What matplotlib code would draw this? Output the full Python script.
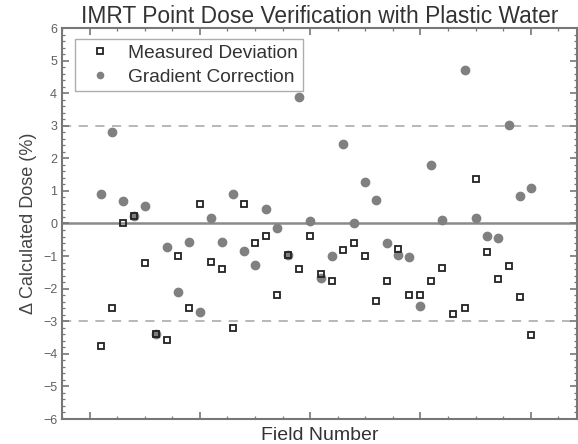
import numpy as np
import matplotlib
matplotlib.use("Agg")
import matplotlib.pyplot as plt
from matplotlib.ticker import MultipleLocator, NullFormatter

plt.rcParams['font.family'] = ['Liberation Sans', 'DejaVu Sans']

fields = list(range(1, 41))
measured = [-3.77, -2.60, 0.02, 0.22, -1.20, -3.39, -3.59, -0.99, -2.60, 0.61,
            -1.19, -1.40, -3.21, 0.61, -0.59, -0.39, -2.19, -0.97, -1.40, -0.39,
            -1.55, -1.78, -0.80, -0.59, -0.99, -2.39, -1.78, -0.78, -2.19, -2.19,
            -1.78, -1.38, -2.78, -2.58, 1.36, -0.86, -1.69, -1.29, -2.27, -3.43]
gradient = [0.92, 2.80, 0.69, 0.22, 0.53, -3.39, -0.73, -2.11, -0.58, -2.71,
            0.17, -0.58, 0.92, -0.84, -1.27, 0.44, -0.13, -0.97, 3.89, 0.08,
            -1.68, -0.99, 2.45, 0.02, 1.28, 0.73, -0.59, -0.97, -1.04, -2.52,
            1.81, 0.10, np.nan, 4.70, 0.17, -0.38, -0.43, 3.03, 0.84, 1.09]

fig = plt.figure(figsize=(5.78, 4.44), dpi=100)
ax = fig.add_axes([62/578, 25/444, 515/578, 391/444])

ax.axhline(0, color='#8a8a8a', lw=1.8, zorder=1)
for yv in (3, -3):
    ax.axhline(yv, color='#ababab', lw=1.2, dashes=(5.5, 4.5), zorder=1)

ax.plot(fields, gradient, 'o', ls='none', color='#808080', ms=6,
        mec='#808080', label='Gradient Correction', zorder=2)
ax.plot(fields, measured, 's', ls='none', mfc='none', mec='#222222', ms=5,
        mew=1.3, label='Measured Deviation', zorder=3)

ax.set_xlim(-2.5, 44.2)
ax.set_ylim(-6, 6)
ax.xaxis.set_major_locator(MultipleLocator(10))
ax.xaxis.set_minor_locator(MultipleLocator(2.5))
ax.xaxis.set_major_formatter(NullFormatter())
ax.yaxis.set_major_locator(MultipleLocator(1))
ax.yaxis.set_minor_locator(MultipleLocator(0.2))
ax.tick_params(which='both', direction='in', top=True, right=True,
               color='#777777', labelcolor='#606060', labelsize=9)
ax.tick_params(which='major', length=5, width=1.2)
ax.tick_params(which='minor', length=2.5, width=0.9)
for s in ax.spines.values():
    s.set_color('#777777')
    s.set_linewidth(1.5)

ax.set_title('IMRT Point Dose Verification with Plastic Water', fontsize=16.4,
             color='#333333', pad=-1.5)
ax.set_xlabel('Field Number', fontsize=14, color='#333333', labelpad=2)
ax.set_ylabel('\u0394 Calculated Dose (%)', fontsize=13, color='#444444', labelpad=4)

h, l = ax.get_legend_handles_labels()
leg = ax.legend(h[::-1], l[::-1], loc='upper left', bbox_to_anchor=(13/515, 1 - 11/391),
                borderaxespad=0, fontsize=13.8, frameon=True, fancybox=False,
                markerscale=0.75, handlelength=2.0, handletextpad=0.45,
                labelspacing=0.32, borderpad=0.3)
leg.get_frame().set_edgecolor('#999999')
leg.get_frame().set_linewidth(1.0)
for t in leg.get_texts():
    t.set_color('#333333')

fig.savefig('out.png', dpi=100)
